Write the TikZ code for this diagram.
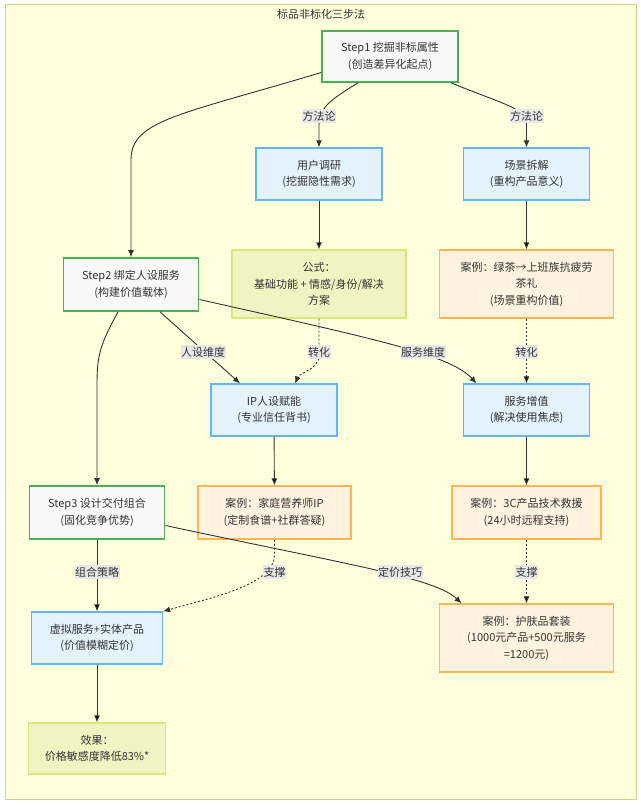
\documentclass[tikz,border=0pt]{standalone}
\usepackage{fontspec}
\setmainfont{Noto Sans CJK SC}
\usetikzlibrary{arrows.meta}
\definecolor{txt}{HTML}{333333}
\definecolor{framefill}{HTML}{FFFFDE}
\definecolor{frameline}{HTML}{D2D28C}
\definecolor{stepline}{HTML}{4CAF50}
\definecolor{stepfill}{HTML}{F8F8F8}
\definecolor{methline}{HTML}{64B5F6}
\definecolor{methfill}{HTML}{E3F2FD}
\definecolor{caseline}{HTML}{FFB74D}
\definecolor{casefill}{HTML}{FFF3E0}
\definecolor{resline}{HTML}{DCE775}
\definecolor{resfill}{HTML}{F0F4C3}
\definecolor{lblfill}{HTML}{E8E8E8}
\tikzset{
  box/.style={shape=rectangle,align=center,inner sep=0pt,text=txt,font=\fontsize{11}{16.5}\selectfont,line width=1.3pt},
  stepnode/.style={box,draw=stepline,fill=stepfill,line width=1.7pt},
  methnode/.style={box,draw=methline,fill=methfill},
  casenode/.style={box,draw=caseline,fill=casefill},
  resnode/.style={box,draw=resline,fill=resfill},
  elabel/.style={fill=lblfill,text=txt,font=\fontsize{11}{13}\selectfont,inner xsep=0.5pt,inner ysep=2pt},
  conn/.style={-{Latex[length=7pt,width=6pt]},draw=txt,line width=0.9pt},
  dotconn/.style={conn,dash pattern=on 2pt off 2pt}
}
\begin{document}
\begin{tikzpicture}[x=1pt,y=-1pt]
\useasboundingbox (0,0) rectangle (640,805);
\draw[fill=framefill,draw=frameline,line width=1pt] (5,5) rectangle (636,799);
\node[text=txt,font=\fontsize{11}{13}\selectfont] (t) at (321,14) {标品非标化三步法};

\node[stepnode,minimum width=136pt,minimum height=51pt] (0) at (390,56.5) {Step1 挖掘非标属性\\(创造差异化起点)};
\node[methnode,minimum width=126pt,minimum height=52pt] (1) at (319,174) {用户调研\\(挖掘隐性需求)};
\node[methnode,minimum width=126pt,minimum height=52pt] (2) at (526.5,174) {场景拆解\\(重构产品意义)};
\node[stepnode,minimum width=135pt,minimum height=53pt] (3) at (131,284.5) {Step2 绑定人设服务\\(构建价值载体)};
\node[resnode,minimum width=174pt,minimum height=68pt] (4) at (319,284) {公式：\\基础功能 + 情感/身份/解决\\方案};
\node[casenode,minimum width=174pt,minimum height=68pt] (5) at (526.5,284) {案例：绿茶→上班族抗疲劳\\茶礼\\(场景重构价值)};
\node[methnode,minimum width=126pt,minimum height=52pt] (6) at (274,410) {IP人设赋能\\(专业信任背书)};
\node[methnode,minimum width=126pt,minimum height=52pt] (7) at (526.5,410) {服务增值\\(解决使用焦虑)};
\node[stepnode,minimum width=135pt,minimum height=53pt] (8) at (97,512.5) {Step3 设计交付组合\\(固化竞争优势)};
\node[casenode,minimum width=153pt,minimum height=53pt] (9) at (274.5,512.5) {案例：家庭营养师IP\\(定制食谱+社群答疑)};
\node[casenode,minimum width=149pt,minimum height=53pt] (10) at (526.5,512.5) {案例：3C产品技术救援\\(24小时远程支持)};
\node[methnode,minimum width=131pt,minimum height=52pt] (11) at (97,638) {虚拟服务+实体产品\\(价值模糊定价)};
\node[casenode,minimum width=174pt,minimum height=68pt] (12) at (526.5,638) {案例：护肤品套装\\(1000元产品+500元服务\\=1200元)};
\node[resnode,minimum width=137pt,minimum height=51pt] (13) at (97,748.5) {效果：\\价格敏感度降低83\%*};

\draw[conn] ([yshift=-16pt]0.west) .. controls (180,115) and (131,120) .. (131,160) -- (3.north);
\draw[conn] ([xshift=-32pt]0.south) .. controls (330,100) and (319,108) .. (319,125) -- (1.north);
\draw[conn] ([xshift=61pt]0.south) .. controls (505,105) and (526.5,108) .. (526.5,125) -- (2.north);
\path [conn] (1) edge (4);
\path [conn] (2) edge (5);
\draw[conn] ([xshift=29pt]3.south) -- ([xshift=-34pt]6.north);
\draw[conn] ([yshift=-15pt]3.east) .. controls (380,340) and (450,355) .. ([xshift=-50pt]7.north);
\draw[conn] ([xshift=-13pt]3.south) .. controls (100,345) and (97,355) .. (97,385) -- (8.north);
\draw[dotconn] (4.south) -- (319,355) .. controls (319,370) and (300,372) .. ([xshift=21pt]6.north);
\path [dotconn] (5) edge (7);
\path [conn] (6) edge (9);
\path [conn] (7) edge (10);
\path [conn] (8) edge (11);
\draw[conn] ([yshift=-13pt]8.east) .. controls (350,565) and (435,578) .. ([xshift=-65pt]12.north);
\draw[dotconn] (9.south) -- (274.5,555) .. controls (274.5,585) and (210,598) .. (11.north east);
\path [dotconn] (10) edge (12);
\path [conn] (11) edge (13);

\node[elabel] (l0) at (319,116) {方法论};
\node[elabel] (l1) at (526.5,116) {方法论};
\node[elabel] (l2) at (203,352) {人设维度};
\node[elabel] (l3) at (319,352) {转化};
\node[elabel] (l4) at (423,352) {服务维度};
\node[elabel] (l5) at (526.5,352) {转化};
\node[elabel] (l6) at (97,572) {组合策略};
\node[elabel] (l7) at (274.5,572) {支撑};
\node[elabel] (l8) at (400,572) {定价技巧};
\node[elabel] (l9) at (526.5,572) {支撑};
\end{tikzpicture}
\end{document}
